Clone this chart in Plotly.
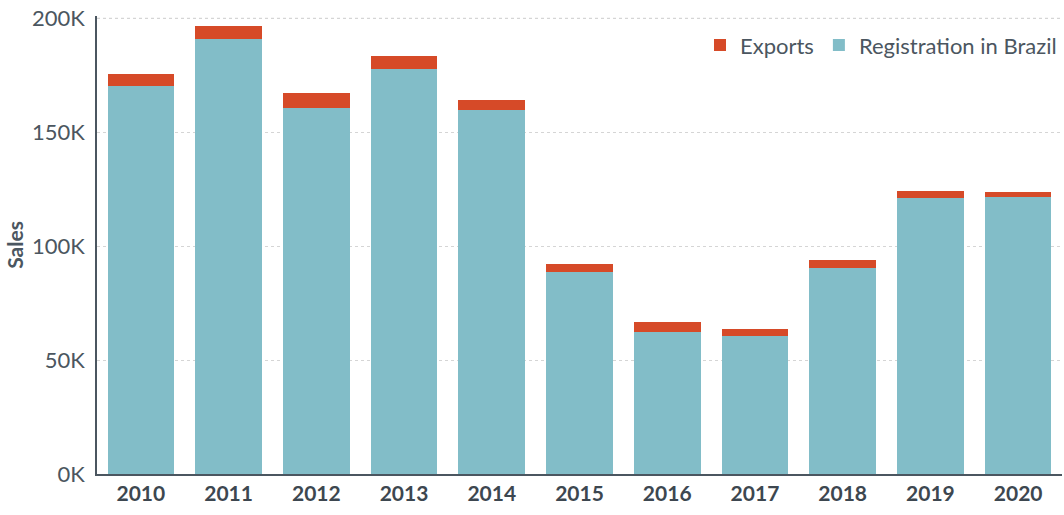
import plotly.graph_objects as go

years = ["2010", "2011", "2012", "2013", "2014", "2015", "2016", "2017", "2018", "2019", "2020"]
registration = [170200, 190800, 160500, 177600, 159600, 88600, 62300, 60500, 90400, 121100, 121500]
exports = [5200, 5700, 6600, 5700, 4400, 3500, 4400, 3100, 3500, 3000, 2200]
ytick_vals = [0, 50000, 100000, 150000, 200000]
ytick_text = ["0K", "50K", "100K", "150K", "200K"]

text_color = "#4b5660"
grid_color = "#d5d5d5"
fig = go.Figure()
fig.add_trace(go.Bar(x=years, y=registration, name="Registration in Brazil",
                     marker=dict(color="#82bdc8", line=dict(width=0))))
fig.add_trace(go.Bar(x=years, y=exports, name="Exports",
                     marker=dict(color="#d64a28", line=dict(width=0))))

# top gridline (plotly skips gridlines at the plot edge)
fig.add_shape(type="line", xref="paper", x0=0, x1=1, yref="y",
              y0=ytick_vals[-1], y1=ytick_vals[-1],
              line=dict(color=grid_color, width=1, dash="dot"), layer="below")

fig.update_layout(
    barmode="stack",
    bargap=0.24,
    width=1064, height=515,
    margin=dict(l=97, r=2, t=16, b=41),
    plot_bgcolor="white", paper_bgcolor="white",
    font=dict(family="Lato, Open Sans, sans-serif", color=text_color, size=18),
    legend=dict(orientation="h", x=1.0, xanchor="right", y=0.982, yanchor="top",
                traceorder="reversed", font=dict(size=22, color=text_color),
                bgcolor="rgba(0,0,0,0)", itemwidth=30, tracegroupgap=0),
    xaxis=dict(showline=True, linecolor="#4b5660", linewidth=1.5, ticks="",
               automargin=False,
               tickfont=dict(size=21, color="#3d4750", weight="bold"),
               showgrid=False),
    yaxis=dict(range=[0, 201000], tickvals=ytick_vals, ticktext=ytick_text,
               automargin=False, ticklabeloverflow="allow",
               showline=True, linecolor="#4b5660", linewidth=1.5,
               showgrid=True, gridcolor=grid_color, griddash="dot", gridwidth=1,
               zeroline=False, ticks="", ticklabelstandoff=6,
               tickfont=dict(size=22, color=text_color),
               title=dict(text="<b>Sales</b>", font=dict(size=21, color=text_color), standoff=3)),
)
fig.write_html("out.html", config={"displayModeBar": False},
               post_script="document.body.style.margin='0';")
